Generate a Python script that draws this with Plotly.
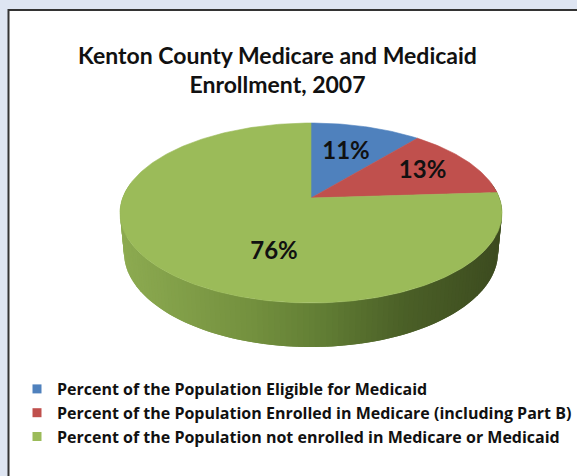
import math
import plotly.graph_objects as go

# ---- data ----
categories = [
    "Percent of the Population Eligible for Medicaid",
    "Percent of the Population Enrolled in Medicare (including Part B)",
    "Percent of the Population not enrolled in Medicare or Medicaid",
]
values = [11, 13, 76]
value_labels = ["11%", "13%", "76%"]
title_text = "Kenton County Medicare and Medicaid<br>Enrollment, 2007"

# ---- styles ----
colors = ["#4f81bd", "#c0504d", "#9bbb59"]
label_r = [0.6, 0.7, 0.6]
label_shift = [0, 0, -26]
TITLE_FONT = "Lato"
LEGEND_FONT = "Open Sans"
BG = "#dee5f2"

# perspective pie geometry (pixel space)
CX, CY = 311.0, 198.0
F = 1001.0
D = 5.314
PHI = math.radians(27.67)
S, C = math.sin(PHI), math.cos(PHI)
H = 0.2385


def proj(theta_deg, r=1.0, h=0.0):
    t = math.radians(theta_deg)
    X = r * math.sin(t)
    Z = r * math.cos(t)
    depth = D + Z * C + h * S
    up = Z * S - h * C
    return CX + F * X / depth, CY - F * up / depth


def hex2rgb(h):
    h = h.lstrip("#")
    return tuple(int(h[i:i + 2], 16) for i in (0, 2, 4))


side_stops = [(120, "#8dab51"), (250, "#73903e"), (320, "#617d34"),
              (400, "#4b6027"), (500, "#3c4b1f")]


def side_color(x):
    if x <= side_stops[0][0]:
        return side_stops[0][1]
    for (x0, c0), (x1, c1) in zip(side_stops, side_stops[1:]):
        if x <= x1:
            f = (x - x0) / (x1 - x0)
            a, b = hex2rgb(c0), hex2rgb(c1)
            return "rgb(%d,%d,%d)" % tuple(round(a[i] + (b[i] - a[i]) * f) for i in range(3))
    return side_stops[-1][1]


fig = go.Figure()

# side of the cylinder (front half), thin overlapping strips for a gradient
step = 1.5
th = 80.0
while th < 280.0:
    t0, t1 = th, min(th + step * 2, 280.0)
    p = [proj(t0), proj(t1), proj(t1, h=H), proj(t0, h=H)]
    xs = [q[0] for q in p] + [p[0][0]]
    ys = [q[1] for q in p] + [p[0][1]]
    col = side_color(sum(q[0] for q in p) / 4)
    fig.add_trace(go.Scatter(x=xs, y=ys, mode="lines", fill="toself",
                             fillcolor=col, line=dict(width=0),
                             hoverinfo="skip", showlegend=False))
    th += step

# top face slices
total = sum(values)
start = 0.0
mids = []
for v, col in zip(values, colors):
    span = 360.0 * v / total
    n = max(2, int(span))
    pts = [proj(start + span * i / n) for i in range(n + 1)]
    xs = [CX] + [q[0] for q in pts] + [CX]
    ys = [CY] + [q[1] for q in pts] + [CY]
    fig.add_trace(go.Scatter(x=xs, y=ys, mode="lines", fill="toself",
                             fillcolor=col, line=dict(color=col, width=0.6),
                             hoverinfo="skip", showlegend=False))
    mids.append(start + span / 2)
    start += span

# labels
lx, ly = [], []
for m, r, sh in zip(mids, label_r, label_shift):
    x, y = proj(m + sh, r=r)
    lx.append(x)
    ly.append(y)
fig.add_trace(go.Scatter(x=lx, y=ly, mode="text", text=value_labels,
                         textfont=dict(family=TITLE_FONT, size=24, color="#111111", weight="bold"),
                         hoverinfo="skip", showlegend=False))

# legend entries
for cat, col in zip(categories, colors):
    fig.add_trace(go.Scatter(x=[None], y=[None], mode="markers", name=cat,
                             marker=dict(symbol="square", size=9, color=col)))

fig.update_layout(
    width=577, height=476,
    margin=dict(l=0, r=0, t=0, b=0),
    paper_bgcolor=BG,
    plot_bgcolor="rgba(0,0,0,0)",
    xaxis=dict(range=[0, 577], visible=False, fixedrange=True),
    yaxis=dict(range=[476, 0], visible=False, fixedrange=True),
    title=dict(text=title_text, x=277.5 / 577, xanchor="center",
               y=1 - 63.5 / 476, yanchor="top", yref="paper",
               font=dict(family=TITLE_FONT, size=23, color="#111111", weight="bold")),
    legend=dict(x=17 / 577, xanchor="left", y=1 - 372 / 476, yanchor="top",
                bgcolor="rgba(0,0,0,0)",
                font=dict(family=LEGEND_FONT, size=16, color="#111111", weight="bold")),
    shapes=[dict(type="rect", xref="x", yref="y", x0=8.5, y0=10, x1=600, y1=500,
                 line=dict(color="#333333", width=2), fillcolor="white", layer="below")],
)

fig.write_html("out.html", config={"displayModeBar": False},
               post_script="document.body.style.margin='0';document.body.style.background='%s';" % BG)
